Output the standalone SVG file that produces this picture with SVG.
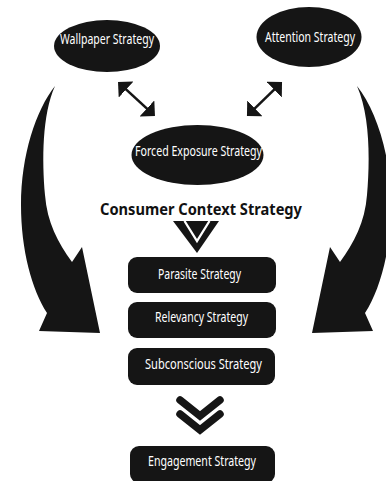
<svg xmlns="http://www.w3.org/2000/svg" width="386" height="481" viewBox="0 0 386 481">
  <defs>
    <style>
      .shape { fill: #151515; }
      .label { fill: #ffffff; font-family: "Noto Sans", "Open Sans", "DejaVu Sans", sans-serif; font-size: 13.5px; text-anchor: middle; }
      .title { fill: #111111; font-family: "Noto Sans", "DejaVu Sans", sans-serif; font-size: 16px; font-weight: bold; text-anchor: middle; }
      .link { fill: none; stroke: #151515; stroke-width: 2.6; }
      .chev { fill: none; stroke: #151515; stroke-linejoin: miter; stroke-linecap: round; }
    </style>
    <marker id="head" viewBox="0 0 11 22" refX="9" refY="11" markerWidth="11" markerHeight="22" markerUnits="userSpaceOnUse" orient="auto-start-reverse">
      <path d="M0,0 L11,11 L0,22 Z" fill="#151515"/>
    </marker>
    <path id="sweep" d="M55,86 C36,110 21,155 21,205 C21,250 32,290 47,313 L39,331 L100,333 L82,247 L72,262 C58,243 47,222 45,195 C42,160 42,115 55,86 Z"/>
  </defs>

  <rect width="386" height="481" fill="#ffffff"/>

  <!-- connectors -->
  <g id="connectors">
    <path class="link" d="M119.5,83.4 L153.5,114.6" marker-start="url(#head)" marker-end="url(#head)"/>
    <path class="link" d="M280.6,83.4 L248.4,114.6" marker-start="url(#head)" marker-end="url(#head)"/>
    <use href="#sweep" class="shape"/>
    <use href="#sweep" class="shape" transform="matrix(-1 0 0 1 412 0)"/>
    <!-- double chevron under the title, its upper part hidden by the title band -->
    <polygon class="shape" points="173,221 219,221 197,253"/>
    <polyline fill="none" stroke="#ffffff" stroke-width="2.3" points="184.5,221 197,241 209.5,221"/>
    <polyline class="chev" stroke-width="7.5" points="180,400 200,416 220,400"/>
    <polyline class="chev" stroke-width="7.5" points="180,414 200,430 220,414"/>
  </g>

  <g id="wallpaper">
    <ellipse class="shape" cx="107" cy="46" rx="53" ry="26"/>
    <text class="label" x="107" y="44" textLength="94" lengthAdjust="spacingAndGlyphs">Wallpaper Strategy</text>
  </g>

  <g id="attention">
    <ellipse class="shape" cx="309" cy="37" rx="52.5" ry="30"/>
    <text class="label" x="310" y="42" textLength="90" lengthAdjust="spacingAndGlyphs">Attention Strategy</text>
  </g>

  <g id="forced-exposure">
    <ellipse class="shape" cx="197.5" cy="155" rx="66" ry="30"/>
    <text class="label" x="198.5" y="156" textLength="127" lengthAdjust="spacingAndGlyphs">Forced Exposure Strategy</text>
  </g>

  <g id="consumer-context">
    <text class="title" x="201" y="215" textLength="202" lengthAdjust="spacingAndGlyphs">Consumer Context Strategy</text>
  </g>

  <g id="parasite">
    <rect class="shape" x="128" y="257" width="148" height="36" rx="9"/>
    <text class="label" x="199.5" y="279" textLength="83" lengthAdjust="spacingAndGlyphs">Parasite Strategy</text>
  </g>

  <g id="relevancy">
    <rect class="shape" x="128" y="302" width="148" height="36" rx="9"/>
    <text class="label" x="201.5" y="322" textLength="93" lengthAdjust="spacingAndGlyphs">Relevancy Strategy</text>
  </g>

  <g id="subconscious">
    <rect class="shape" x="128" y="348" width="147" height="37" rx="9"/>
    <text class="label" x="203.5" y="369" textLength="117" lengthAdjust="spacingAndGlyphs">Subconscious Strategy</text>
  </g>

  <g id="engagement">
    <rect class="shape" x="130" y="446" width="145" height="37" rx="9"/>
    <text class="label" x="202" y="466" textLength="108" lengthAdjust="spacingAndGlyphs">Engagement Strategy</text>
  </g>
</svg>
